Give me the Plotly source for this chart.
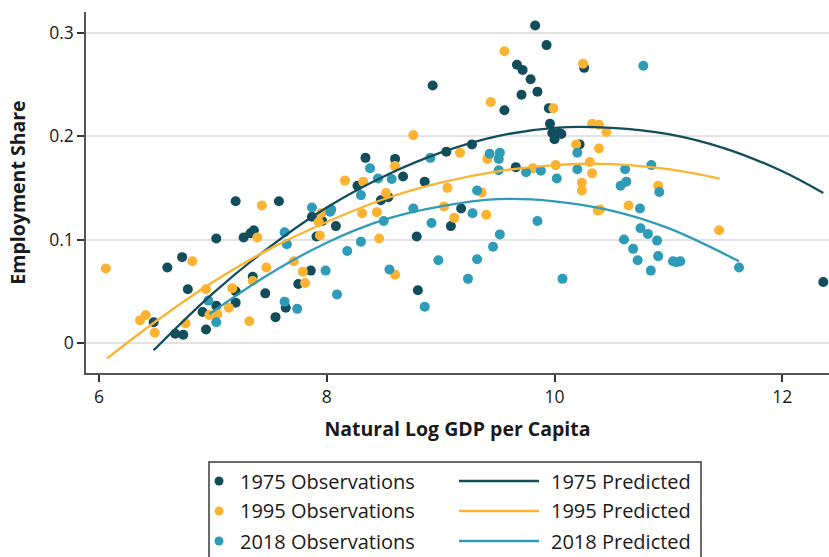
import plotly.graph_objects as go

# ---- data ----
obs1975_x = [6.48, 6.60, 6.67, 6.73, 6.74, 6.78, 6.91, 6.94, 7.03, 7.03, 7.20, 7.20, 7.20, 7.27, 7.33, 7.36,
             7.35, 7.46, 7.55, 7.58, 7.64, 7.75, 7.86, 7.87, 7.91, 7.96, 8.08, 8.27, 8.34, 8.475, 8.54, 8.60,
             8.67, 8.79, 8.80, 8.86, 8.93, 9.05, 9.09, 9.18, 9.275, 9.56, 9.66, 9.67, 9.71, 9.72, 9.79, 9.83,
             9.85, 9.93, 9.95, 9.96, 9.98, 10.00, 10.04, 10.06, 10.22, 10.26, 12.36]
obs1975_y = [0.020, 0.073, 0.009, 0.083, 0.008, 0.052, 0.030, 0.013, 0.101, 0.036, 0.137, 0.050, 0.039, 0.102, 0.106, 0.109,
             0.064, 0.048, 0.025, 0.137, 0.034, 0.057, 0.070, 0.122, 0.103, 0.118, 0.113, 0.152, 0.179, 0.138, 0.141, 0.178,
             0.161, 0.103, 0.051, 0.156, 0.249, 0.185, 0.113, 0.130, 0.192, 0.225, 0.170, 0.269, 0.240, 0.264, 0.255, 0.307,
             0.243, 0.288, 0.227, 0.212, 0.203, 0.197, 0.203, 0.202, 0.192, 0.266, 0.059]

obs1995_x = [6.06, 6.36, 6.41, 6.49, 6.76, 6.82, 6.94, 6.97, 7.04, 7.14, 7.17, 7.32, 7.35, 7.39, 7.43, 7.47,
             7.71, 7.79, 7.81, 7.93, 7.94, 7.95, 8.16, 8.31, 8.32, 8.44, 8.46, 8.52, 8.60, 8.60, 8.76, 9.03,
             9.06, 9.12, 9.17, 9.36, 9.40, 9.41, 9.44, 9.56, 9.81, 9.99, 10.01, 10.19, 10.24, 10.24, 10.25,
             10.31, 10.33, 10.33, 10.38, 10.39, 10.39, 10.40, 10.455, 10.65, 10.91, 11.445]
obs1995_y = [0.072, 0.022, 0.027, 0.010, 0.019, 0.079, 0.052, 0.027, 0.028, 0.034, 0.053, 0.021, 0.060, 0.102, 0.133, 0.073,
             0.079, 0.069, 0.058, 0.117, 0.104, 0.1255, 0.157, 0.1255, 0.156, 0.1265, 0.101, 0.145, 0.171, 0.066, 0.201, 0.132,
             0.150, 0.121, 0.184, 0.1455, 0.124, 0.178, 0.233, 0.282, 0.169, 0.227, 0.172, 0.192, 0.155, 0.1475, 0.270,
             0.175, 0.212, 0.164, 0.128, 0.211, 0.188, 0.129, 0.204, 0.133, 0.152, 0.109]

obs2018_x = [6.96, 7.03, 7.63, 7.65, 7.63, 7.74, 7.87, 7.99, 8.03, 8.04, 8.09, 8.18, 8.30, 8.30, 8.38, 8.45,
             8.50, 8.55, 8.57, 8.76, 8.86, 8.91, 8.92, 8.98, 9.24, 9.28, 9.32, 9.32, 9.43, 9.46, 9.51, 9.52,
             9.51, 9.52, 9.75, 9.85, 9.88, 10.02, 10.07, 10.20, 10.20, 10.58, 10.61, 10.62, 10.63, 10.69, 10.73,
             10.75, 10.755, 10.78, 10.82, 10.845, 10.85, 10.90, 10.91, 10.92, 11.04, 11.07, 11.105, 11.62]
obs2018_y = [0.041, 0.020, 0.107, 0.0955, 0.040, 0.033, 0.131, 0.070, 0.127, 0.129, 0.047, 0.089, 0.098, 0.143, 0.169, 0.159,
             0.118, 0.071, 0.1585, 0.130, 0.035, 0.179, 0.116, 0.080, 0.062, 0.1255, 0.1475, 0.081, 0.183, 0.093, 0.178, 0.184,
             0.167, 0.105, 0.165, 0.118, 0.1665, 0.159, 0.062, 0.184, 0.168, 0.152, 0.100, 0.168, 0.156, 0.091, 0.080,
             0.130, 0.111, 0.268, 0.1055, 0.070, 0.172, 0.099, 0.084, 0.146, 0.079, 0.078, 0.079, 0.073]

pred1975_x = [6.48, 7.0, 7.5, 8.0, 8.5, 9.0, 9.5, 10.0, 10.5, 11.0, 11.5, 12.0, 12.36]
pred1975_y = [-0.007, 0.048, 0.093, 0.131, 0.161, 0.184, 0.200, 0.208, 0.208, 0.202, 0.188, 0.166, 0.145]

pred1995_x = [6.07, 6.5, 7.0, 7.5, 8.0, 8.5, 9.0, 9.5, 10.0, 10.5, 11.0, 11.45]
pred1995_y = [-0.015, 0.021, 0.059, 0.091, 0.117, 0.139, 0.155, 0.166, 0.172, 0.173, 0.168, 0.159]

pred2018_x = [6.97, 7.5, 8.0, 8.5, 9.0, 9.5, 10.0, 10.5, 11.0, 11.62]
pred2018_y = [0.028, 0.067, 0.097, 0.119, 0.132, 0.139, 0.137, 0.128, 0.111, 0.079]

x_ticks = [6, 8, 10, 12]
y_ticks = [0, 0.1, 0.2, 0.3]
y_tick_labels = ["0", "0.1", "0.2", "0.3"]

series_names = ["1975", "1995", "2018"]
series_colors = ["#124d5c", "#fbb331", "#2e9bb7"]

FONT = "Open Sans"
TXT = "#1a1a1a"

# page body margin is removed (post_script), so figure pixels == screen pixels
W, H = 829, 557
ML, MR, MT, MB = 86, 0, 12, 557 - 373
PW, PH = W - ML - MR, H - MT - MB

def px2x(px):  # screen pixel (x) -> paper coordinate
    return (px - ML) / PW

def px2y(py):  # screen pixel (y) -> paper coordinate
    return (H - MB - py) / PH

fig = go.Figure()

obs_data = [(obs1975_x, obs1975_y), (obs1995_x, obs1995_y), (obs2018_x, obs2018_y)]
pred_data = [(pred1975_x, pred1975_y), (pred1995_x, pred1995_y), (pred2018_x, pred2018_y)]

for (x, y), c, n in zip(obs_data, series_colors, series_names):
    fig.add_trace(go.Scatter(x=x, y=y, mode="markers", name=n + " Observations", showlegend=False,
                             marker=dict(color=c, size=10, line=dict(width=0)), cliponaxis=False))
for (x, y), c, n in zip(pred_data, series_colors, series_names):
    fig.add_trace(go.Scatter(x=x, y=y, mode="lines", name=n + " Predicted", showlegend=False,
                             line=dict(color=c, width=2.3, shape="spline", smoothing=1.0)))

# ---- legend box drawn as layout decoration ----
shapes = [dict(type="rect", xref="paper", yref="paper",
               x0=px2x(209), x1=px2x(701), y0=px2y(575), y1=px2y(462),
               line=dict(color="#3a3a3a", width=1.5), fillcolor="white", layer="above")]
annotations = []
row_y = [481, 511, 541]
for ry, c, n in zip(row_y, series_colors, series_names):
    shapes.append(dict(type="circle", xref="paper", yref="paper",
                       x0=px2x(214.5), x1=px2x(223.5), y0=px2y(ry + 4.5), y1=px2y(ry - 4.5),
                       fillcolor=c, line=dict(width=0)))
    shapes.append(dict(type="line", xref="paper", yref="paper",
                       x0=px2x(459), x1=px2x(539), y0=px2y(ry), y1=px2y(ry),
                       line=dict(color=c, width=2.3)))
    annotations.append(dict(xref="paper", yref="paper", x=px2x(238), y=px2y(ry), xanchor="left",
                            yanchor="middle", text=n + " Observations", showarrow=False,
                            font=dict(family=FONT, size=20, color=TXT)))
    annotations.append(dict(xref="paper", yref="paper", x=px2x(549), y=px2y(ry), xanchor="left",
                            yanchor="middle", text=n + " Predicted", showarrow=False,
                            font=dict(family=FONT, size=20, color=TXT)))

fig.update_layout(
    width=W, height=H,
    margin=dict(l=ML, r=MR, t=MT, b=MB, autoexpand=False),
    paper_bgcolor="white", plot_bgcolor="white",
    font=dict(family=FONT, color=TXT, size=17),
    showlegend=False,
    hovermode=False,
    shapes=shapes, annotations=annotations,
    xaxis=dict(range=[5.886, 12.41], tickvals=x_ticks, ticks="outside", ticklen=7, tickwidth=1.5,
               tickcolor="#333", showline=True, linecolor="#555", linewidth=1.5, showgrid=False,
               zeroline=False, tickfont=dict(size=17.5), automargin=False,
               title=dict(text="<b>Natural Log GDP per Capita</b>", font=dict(size=19.5), standoff=16)),
    yaxis=dict(range=[-0.029, 0.32], tickvals=y_ticks, ticktext=y_tick_labels, ticks="outside",
               ticklen=7, tickwidth=1.5, tickcolor="#333", showline=True, linecolor="#555", linewidth=1.5,
               showgrid=True, gridcolor="#e3e3e3", gridwidth=1.5, zeroline=False, tickfont=dict(size=17.5),
               automargin=False,
               title=dict(text="<b>Employment Share</b>", font=dict(size=19.5), standoff=18)),
)

fig.write_html(
    "out.html",
    config={"displayModeBar": False},
    post_script="document.documentElement.style.margin='0';document.documentElement.style.overflow='hidden';"
                "document.body.style.margin='0';document.body.style.overflow='hidden';",
)
